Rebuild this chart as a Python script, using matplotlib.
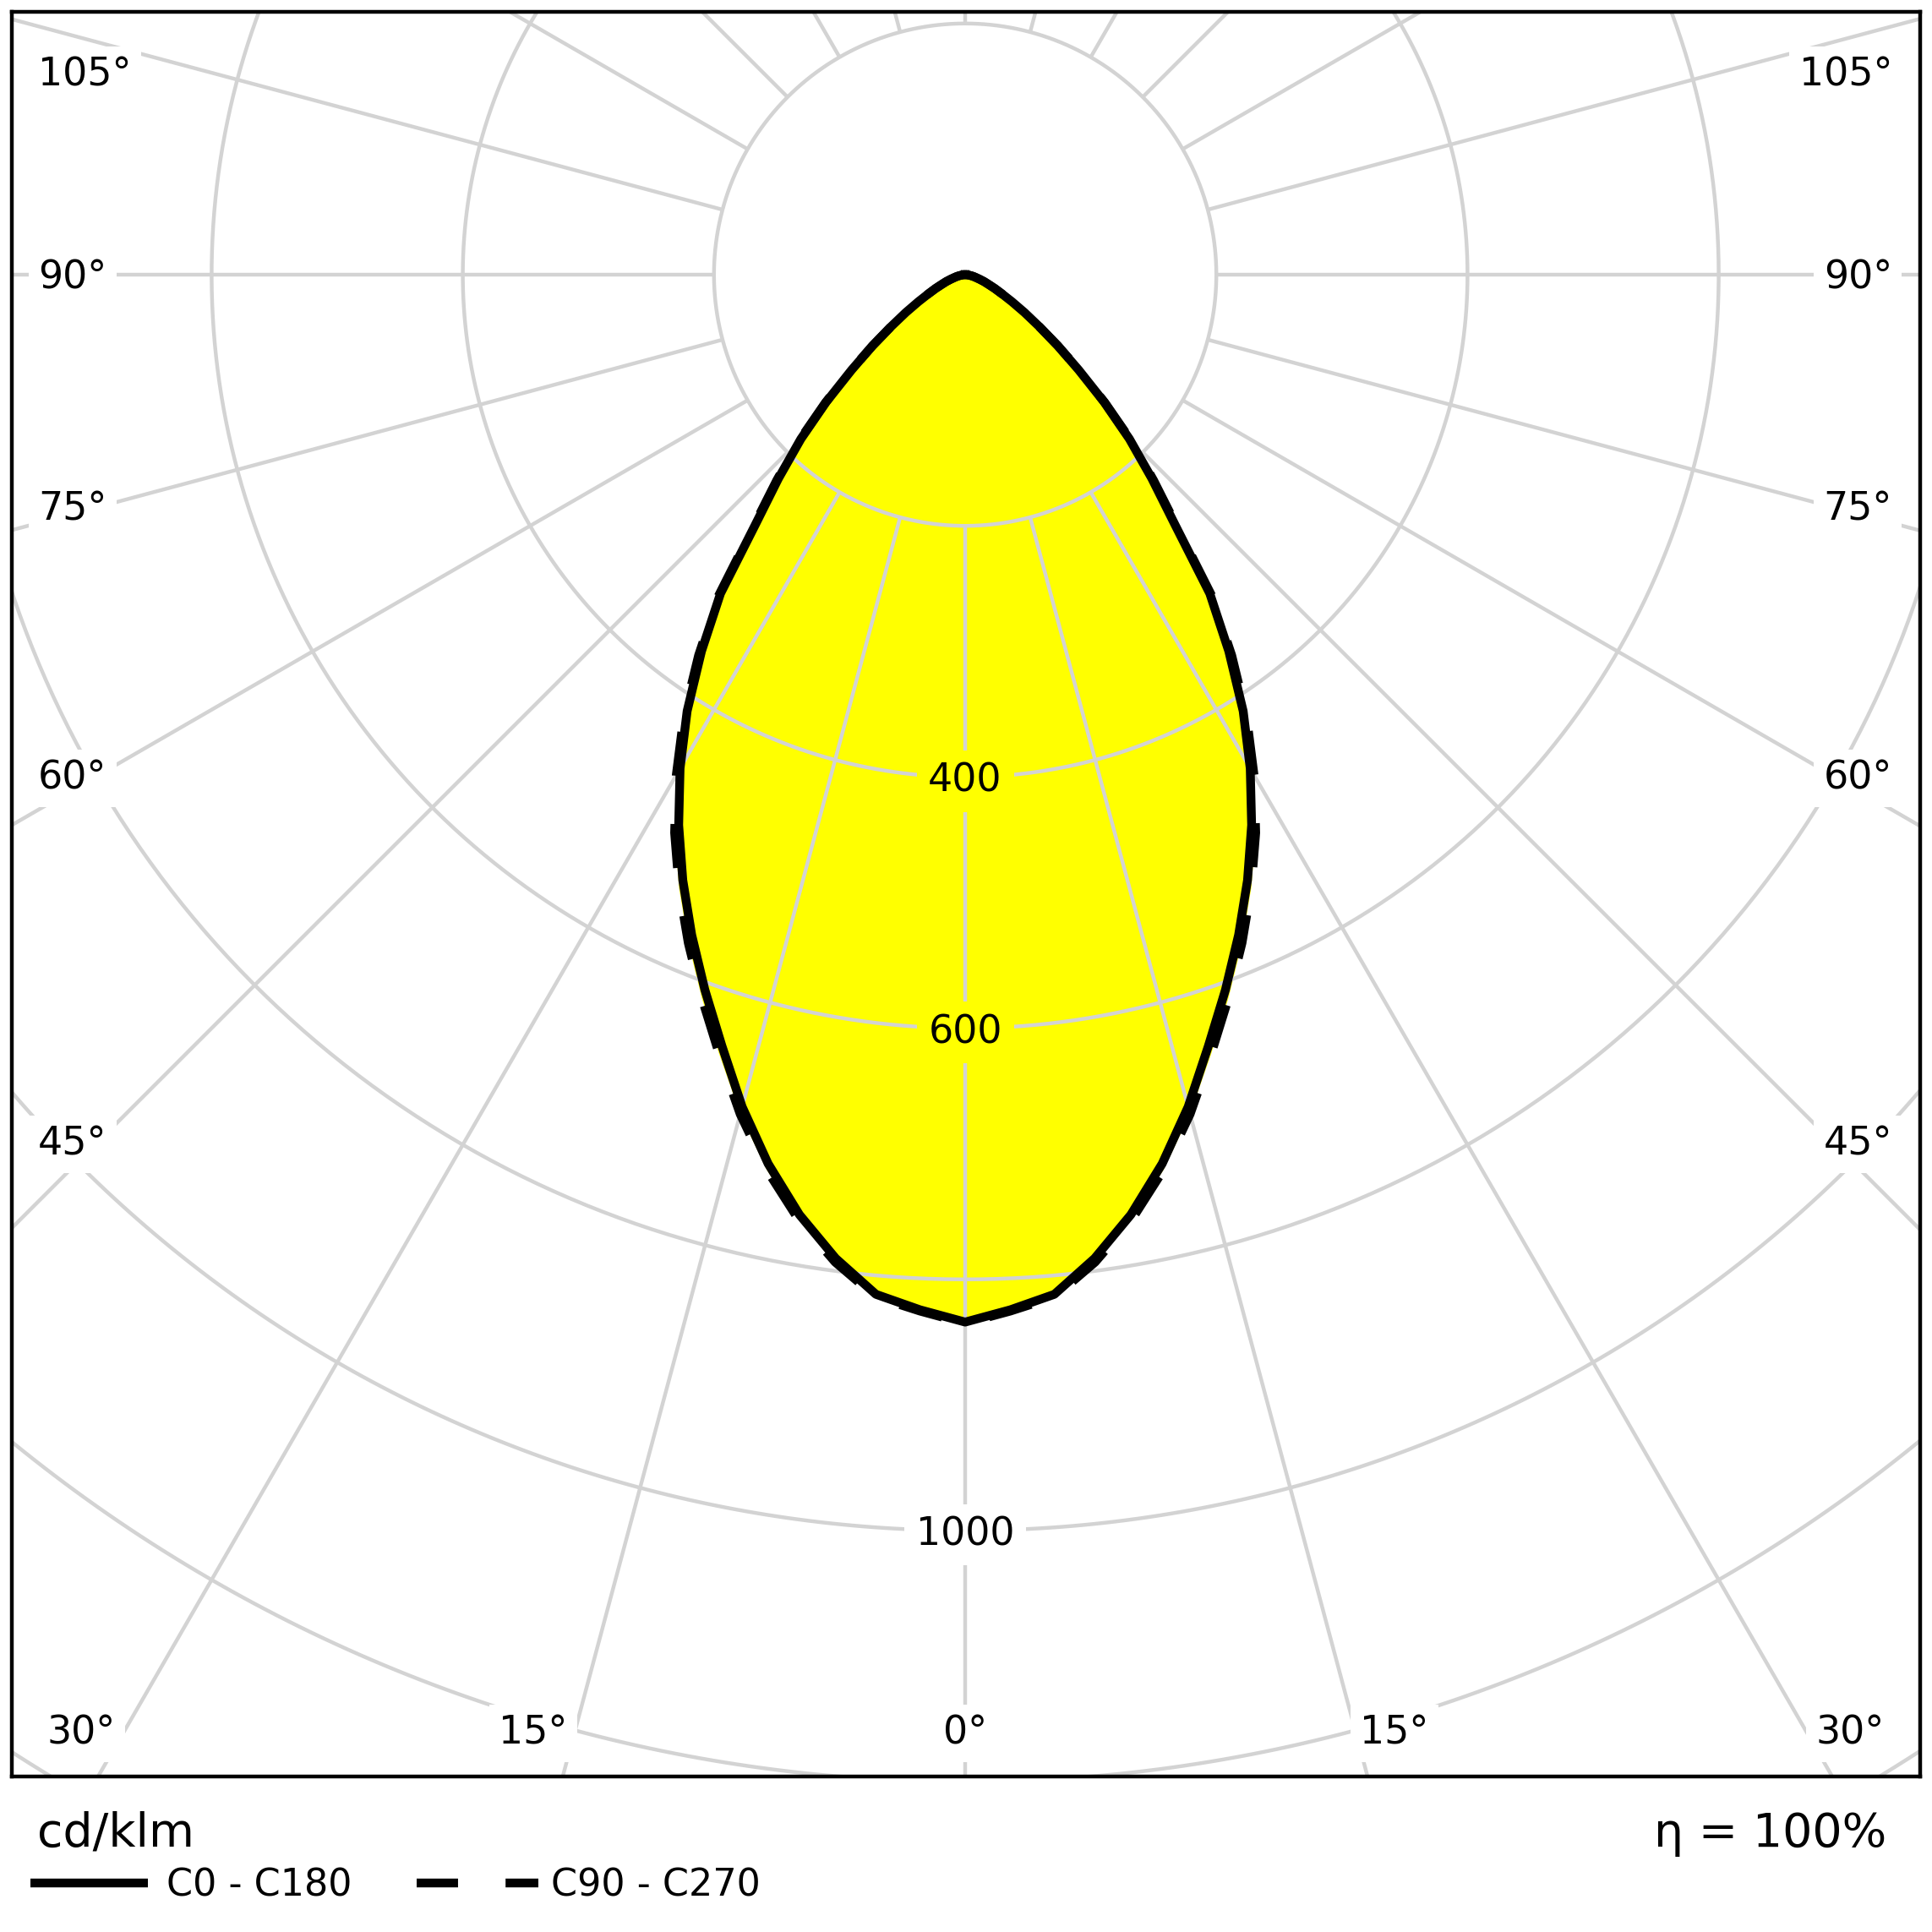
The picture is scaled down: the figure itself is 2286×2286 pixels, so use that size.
import numpy as np
import matplotlib.pyplot as plt
from matplotlib.lines import Line2D

# luminous intensity (cd/klm) against gamma angle, 2.5 degree steps
gamma = [0, 2.5, 5, 7.5, 10, 12.5, 15, 17.5, 20, 22.5, 25, 27.5, 30, 32.5, 35, 37.5,
         40, 42.5, 45, 47.5, 50, 52.5, 55, 57.5, 60, 62.5, 65, 67.5, 70, 72.5, 75,
         77.5, 80, 82.5, 85, 87.5, 90]
c0_c180 = [834, 825, 815, 790, 760, 725, 686, 644, 606, 569, 532, 494, 454, 412, 366, 320,
           260, 220, 185, 150, 118, 93, 72, 56, 43, 33, 26, 20, 16, 12, 9,
           7, 5, 3, 2, 1, 0]
c90_c270 = [835, 826, 817, 793, 764, 730, 692, 651, 613, 576, 539, 501, 460, 417, 370, 323,
            263, 222, 187, 151, 119, 93, 72, 56, 43, 33, 26, 20, 16, 12, 9,
            7, 5, 3, 2, 1, 0]

ring_values = [200, 400, 600, 800, 1000, 1200, 1400]
ring_labels = ["400", "600", "1000"]
spoke_step = 15

side_labels = ["105°", "90°", "75°", "60°", "45°"]
bottom_labels = ["30°", "15°", "0°", "15°", "30°"]

W = 2286
K = 1.486          # px per cd/klm
CX, CY = 1142, 325  # pole position in px (from top-left)
DY = 5             # text nudge downwards, px


def to_data(px, py):
    return (px - CX) / K, (CY - py) / K


def curve(values):
    g = np.radians(gamma)
    v = np.array(values, dtype=float)
    x = np.concatenate([-(v * np.sin(g))[::-1], (v * np.sin(g))[1:]])
    y = np.concatenate([-(v * np.cos(g))[::-1], -(v * np.cos(g))[1:]])
    return x, y


fig = plt.figure(figsize=(W / 100, W / 100), dpi=100)
ax = fig.add_axes([14 / W, 184 / W, 2258 / W, 2088 / W])
x0, y1 = to_data(14, 14)
x1, y0 = to_data(2272, 2102)
ax.set_xlim(x0, x1)
ax.set_ylim(y0, y1)
ax.set_xticks([])
ax.set_yticks([])
for s in ax.spines.values():
    s.set_linewidth(3.2)
    s.set_zorder(10)

grid_kw = dict(color="#d3d3d3", lw=3.2, zorder=2, solid_capstyle="butt")

# fill
fx, fy = curve(c90_c270)
ax.fill(fx, fy, color="#ffff00", zorder=1, lw=0)

# rings
t = np.linspace(0, 2 * np.pi, 720)
for r in ring_values:
    ax.plot(r * np.cos(t), r * np.sin(t), **grid_kw)

# spokes
for a in range(0, 360, spoke_step):
    ar = np.radians(a)
    ax.plot([200 * np.sin(ar), 2000 * np.sin(ar)],
            [-200 * np.cos(ar), -2000 * np.cos(ar)], **grid_kw)

# ring labels on the 0 deg spoke
for lab in ring_labels:
    r = float(lab)
    inside = r < c0_c180[0]
    ax.text(0, -r - DY / K, lab, fontsize=33, ha="center", va="center", zorder=3,
            bbox=dict(boxstyle="square,pad=0.3", fc="#ffff00" if inside else "white", ec="none"))

# curves
cx_, cy_ = curve(c90_c270)
ax.plot(cx_, cy_, color="black", lw=7.5, ls=(0, (5, 5.5)), zorder=4)
sx, sy = curve(c0_c180)
ax.plot(sx, sy, color="black", lw=7.5, zorder=5, solid_joinstyle="round")

# angle labels
lab_box = dict(boxstyle="square,pad=0.25", fc="white", ec="none")
side_y = [84, 324, 598, 916, 1349]
for lab, py in zip(side_labels, side_y):
    xl, yl = to_data(45, py + DY)
    ax.text(xl, yl, lab, fontsize=33, ha="left", va="center", zorder=6, bbox=lab_box)
    xr, yr = to_data(2239, py + DY)
    ax.text(xr, yr, lab, fontsize=33, ha="right", va="center", zorder=6, bbox=lab_box)
bottom_x = [96, 631, 1142, 1650, 2189]
for lab, px in zip(bottom_labels, bottom_x):
    xb, yb = to_data(px, 2046 + DY)
    ax.text(xb, yb, lab, fontsize=33, ha="center", va="center", zorder=6, bbox=lab_box)


# footer
def fy_(py):
    return 1 - py / W


fig.text(44 / W, fy_(2170), "cd/klm", fontsize=40, ha="left", va="center")
fig.text(2232 / W, fy_(2170), "η = 100%", fontsize=40, ha="right", va="center")

ly = fy_(2228)
fig.add_artist(Line2D([36 / W, 175 / W], [ly, ly], color="black", lw=7.5, solid_capstyle="butt"))
fig.text(197 / W, fy_(2231), "C0 - C180", fontsize=32, ha="left", va="center")
fig.add_artist(Line2D([493 / W, 637 / W], [ly, ly], color="black", lw=7.5,
                      ls=(0, (4.7, 5.4)), dash_capstyle="butt"))
fig.text(652 / W, fy_(2231), "C90 - C270", fontsize=32, ha="left", va="center")

fig.savefig("out.png", dpi=100)
